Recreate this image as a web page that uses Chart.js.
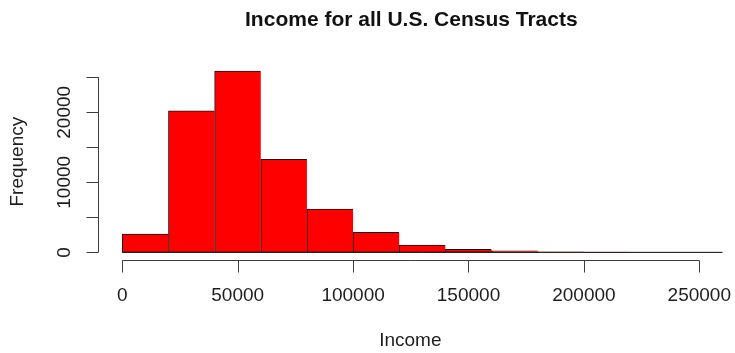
<!DOCTYPE html>
<html>
<head>
<meta charset="utf-8">
<script src="https://cdn.jsdelivr.net/npm/chart.js@4/dist/chart.umd.min.js"></script>
<style>
  html, body { margin: 0; padding: 0; background: #ffffff; }
  canvas { display: block; }
</style>
</head>
<body>
<canvas id="hist" width="735" height="353"></canvas>
<script>
// Histogram bins (bin edges) and tract counts per bin
const breaks = [0, 20000, 40000, 60000, 80000, 100000, 120000, 140000, 160000, 180000, 200000, 220000, 240000, 260000];
const counts = [2610, 20190, 25900, 13290, 6190, 2860, 1040, 430, 200, 60, 20, 10, 5];

// Axis ticks and the labels printed beside them
const xTicks = [0, 50000, 100000, 150000, 200000, 250000];
const xTickLabels = ["0", "50000", "100000", "150000", "200000", "250000"];
const yTicks = [0, 5000, 10000, 15000, 20000, 25000];
const yTickLabels = [0, 10000, 20000];

const titleText = "Income for all U.S. Census Tracts";
const xTitle = "Income";
const yTitle = "Frequency";

const FONT = '"Liberation Sans", Arial, "DejaVu Sans", sans-serif';
const AXIS_COLOR = "#3c3c3c";
const TEXT_COLOR = "#1e1e1e";
const BAR_EDGE = "#141414";

const points = counts.map((c, i) => ({ x: (breaks[i] + breaks[i + 1]) / 2, y: c }));

// Base-graphics style axes: lines span only the tick range and sit off the bars
const baseAxes = {
  id: "baseAxes",
  afterDatasetsDraw(chart) {
    const ctx = chart.ctx;
    const xs = chart.scales.x;
    const ys = chart.scales.y;
    const area = chart.chartArea;
    const tickLen = 12;
    ctx.save();

    // bottom outline of the histogram across every bin
    ctx.strokeStyle = BAR_EDGE;
    ctx.lineWidth = 1;
    ctx.beginPath();
    ctx.moveTo(xs.getPixelForValue(breaks[0]), ys.getPixelForValue(0));
    ctx.lineTo(xs.getPixelForValue(breaks[breaks.length - 1]), ys.getPixelForValue(0));
    ctx.stroke();

    ctx.strokeStyle = AXIS_COLOR;
    ctx.lineWidth = 1;

    // x axis
    const yAxisPos = Math.round(area.bottom) + 0.5;
    ctx.beginPath();
    ctx.moveTo(xs.getPixelForValue(xTicks[0]), yAxisPos);
    ctx.lineTo(xs.getPixelForValue(xTicks[xTicks.length - 1]), yAxisPos);
    xTicks.forEach(v => {
      const px = Math.round(xs.getPixelForValue(v)) + 0.5;
      ctx.moveTo(px, yAxisPos);
      ctx.lineTo(px, yAxisPos + tickLen);
    });
    ctx.stroke();

    // y axis
    const xAxisPos = Math.round(area.left) + 0.5;
    ctx.beginPath();
    ctx.moveTo(xAxisPos, ys.getPixelForValue(yTicks[0]));
    ctx.lineTo(xAxisPos, ys.getPixelForValue(yTicks[yTicks.length - 1]));
    yTicks.forEach(v => {
      const py = Math.round(ys.getPixelForValue(v)) + 0.5;
      ctx.moveTo(xAxisPos, py);
      ctx.lineTo(xAxisPos - tickLen, py);
    });
    ctx.stroke();

    ctx.fillStyle = TEXT_COLOR;
    ctx.font = "19px " + FONT;
    ctx.textAlign = "center";
    ctx.textBaseline = "middle";

    // x tick labels
    xTicks.forEach((v, i) => {
      ctx.fillText(xTickLabels[i], xs.getPixelForValue(v), area.bottom + 36);
    });

    // y tick labels, reading upwards
    yTickLabels.forEach(v => {
      ctx.save();
      ctx.translate(area.left - 33.5, ys.getPixelForValue(v));
      ctx.rotate(-Math.PI / 2);
      ctx.fillText(String(v), 0, 0);
      ctx.restore();
    });

    // axis titles and main title, centred on the plotting region
    const midX = (area.left + xs.getPixelForValue(breaks[breaks.length - 1])) / 2;
    const midY = (area.top + area.bottom) / 2;
    ctx.fillText(xTitle, midX, 341);

    ctx.save();
    ctx.translate(18, midY);
    ctx.rotate(-Math.PI / 2);
    ctx.fillText(yTitle, 0, 0);
    ctx.restore();

    ctx.font = "bold 21px " + FONT;
    ctx.fillStyle = "#111111";
    ctx.fillText(titleText, midX + 1, 20);

    ctx.restore();
  }
};

new Chart(document.getElementById("hist"), {
  type: "bar",
  data: {
    datasets: [{
      data: points,
      backgroundColor: "#ff0000",
      borderColor: BAR_EDGE,
      borderWidth: { left: 1, top: 1, right: 0, bottom: 1 },
      borderSkipped: false,
      barPercentage: 1,
      categoryPercentage: 1
    }]
  },
  options: {
    responsive: false,
    animation: false,
    devicePixelRatio: 1,
    layout: { padding: { left: 98.3, right: 0, top: 63.7, bottom: 93.4 } },
    scales: {
      x: { type: "linear", offset: false, min: -10400, max: 265470, display: false },
      y: { type: "linear", min: -1036, max: 26936, display: false }
    },
    plugins: {
      legend: { display: false },
      tooltip: { enabled: false },
      title: { display: false }
    }
  },
  plugins: [baseAxes]
});
</script>
</body>
</html>
